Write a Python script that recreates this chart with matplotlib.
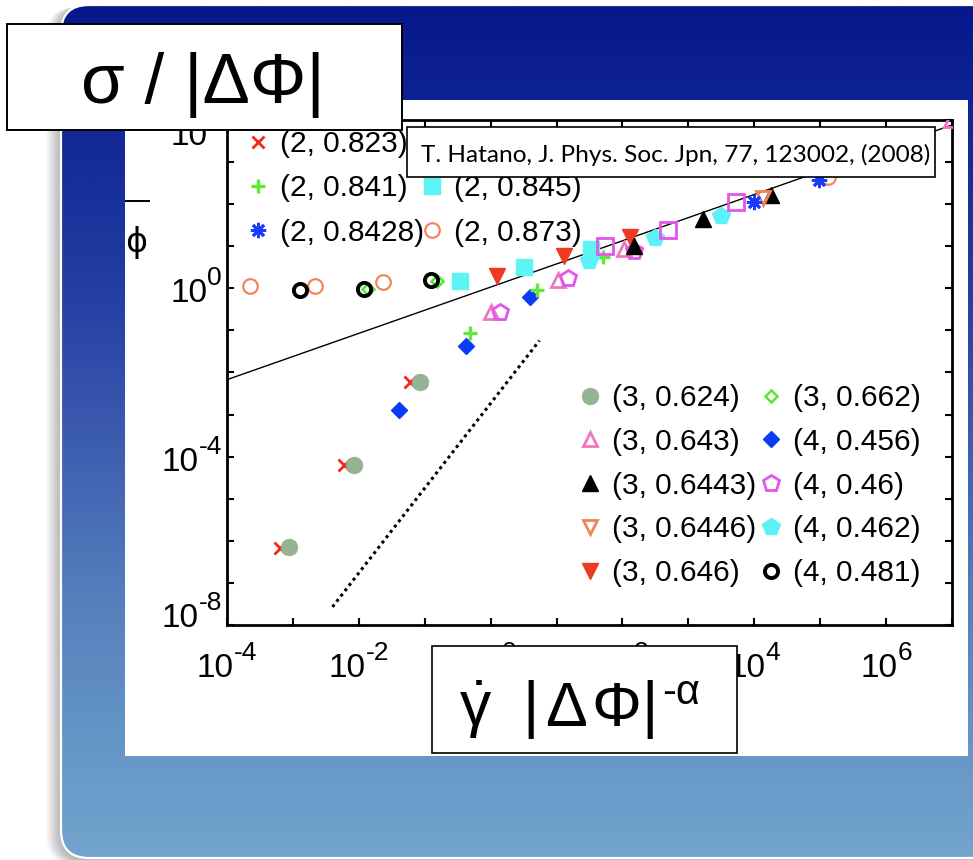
import numpy as np
import matplotlib
matplotlib.use("Agg")
import matplotlib.pyplot as plt
from matplotlib.patches import FancyBboxPatch, Rectangle
from matplotlib.colors import LinearSegmentedColormap
from matplotlib.ticker import NullLocator, NullFormatter

plt.rcParams['font.family'] = ['Liberation Sans', 'DejaVu Sans']
plt.rcParams['mathtext.fontset'] = 'custom'
plt.rcParams['mathtext.rm'] = 'Liberation Sans'
plt.rcParams['mathtext.it'] = 'Liberation Sans'
plt.rcParams['mathtext.bf'] = 'Liberation Sans:bold'

# ---------------- data: x = gamma_dot |dphi|^-alpha, y = sigma / |dphi| ----------------
x_2_0823 = [6.4e-4, 6.0e-3, 6.0e-2]
y_2_0823 = [6.8e-7, 6.5e-5, 5.8e-3]
x_2_0841 = [0.49, 5.1, 51]
y_2_0841 = [0.089, 0.89, 5.5]
x_2_08428 = [9.8e3, 9.5e4]
y_2_08428 = [112, 372]
x_2_0843 = [55, 490, 5250]
y_2_0843 = [10, 24, 112]
x_2_0845 = [0.34, 3.2, 33]
y_2_0845 = [1.48, 3.3, 8.5]
x_2_0873 = [2.2e-4, 2.2e-3, 0.023, 1.3e5]
y_2_0873 = [1.12, 1.12, 1.38, 437]

x_3_0624 = [8.7e-4, 8.5e-3, 8.5e-2]
y_3_0624 = [7.2e-7, 6.5e-5, 5.8e-3]
x_3_0643 = [1.0, 10.5, 105, 9.7e6]
y_3_0643 = [0.27, 1.6, 8.5, 1.0e4]
x_3_06443 = [148, 1660, 1.78e4]
y_3_06443 = [10, 44, 162]
x_3_06446 = [1.35e4]
y_3_06446 = [138]
x_3_0646 = [1.26, 12.9, 132]
y_3_0646 = [2.0, 5.8, 17]
x_3_0662 = [0.0138, 0.155]
y_3_0662 = [0.95, 1.48]

x_4_0456 = [0.041, 0.42, 4.0]
y_4_0456 = [1.26e-3, 0.042, 0.62]
x_4_046 = [1.41, 14.8, 148]
y_4_046 = [0.28, 1.8, 7.6]
x_4_0462 = [31, 316, 3090]
y_4_0462 = [4.4, 16, 51]
x_4_0481 = [1.29e-3, 0.0118, 0.123]
y_4_0481 = [0.89, 0.95, 1.55]

# guide lines (power laws, straight on log-log axes)
fit_x = [1e-4, 1e7]
fit_y = [10 ** -2.17, 10 ** 3.88]
slope2_x = [3.98e-3, 5.5]
slope2_y = [2.69e-8, 0.0575]

xtick_exps = np.arange(-4, 8)
ytick_exps = np.arange(-8, 5)
xlabel_exps = [-4, -2, 0, 2, 4, 6]
ylabel_exps = [-8, -4, 0, 4]

legend1_labels = ['(2, 0.823)', '(2, 0.841)', '(2, 0.8428)',
                  '(2, 0.843)', '(2, 0.845)', '(2, 0.873)']
legend2_labels = ['(3, 0.624)', '(3, 0.643)', '(3, 0.6443)', '(3, 0.6446)', '(3, 0.646)',
                  '(3, 0.662)', '(4, 0.456)', '(4, 0.46)', '(4, 0.462)', '(4, 0.481)']

# ---------------- figure / slide background ----------------
W, H = 973, 860
fig = plt.figure(figsize=(W / 100, H / 100), dpi=100)
fig.patch.set_facecolor('white')

bg = fig.add_axes([0, 0, 1, 1], zorder=0)
bg.set_xlim(0, W)
bg.set_ylim(H, 0)
bg.axis('off')

# soft shadow to the left of the slide card
for k in range(1, 16):
    bg.add_patch(FancyBboxPatch((61 - k, 5 + k * 0.2), 1100, 856,
                                boxstyle='round,pad=0,rounding_size=28',
                                facecolor='black', edgecolor='none',
                                alpha=0.018))

card = FancyBboxPatch((61, 5), 1100, 853, boxstyle='round,pad=0,rounding_size=28',
                      facecolor='none', edgecolor='white', linewidth=1.6, zorder=3)
bg.add_patch(card)
cmap = LinearSegmentedColormap.from_list('slide', [
    (0.00, '#06188c'), (0.15, '#112896'), (0.35, '#2640a4'),
    (0.52, '#3e5eb0'), (0.70, '#5580bd'), (0.86, '#6595c6'), (1.00, '#72a4ce')])
grad = np.linspace(0, 1, 512)[:, None]
img = bg.imshow(grad, cmap=cmap, extent=(61, 1161, 858, 5), aspect='auto',
                interpolation='bilinear', zorder=1)
img.set_clip_path(card)

# white figure panel
bg.add_patch(Rectangle((125, 100), 843, 656, facecolor='white', edgecolor='none', zorder=4))
# visible piece of the stacked y label at the panel edge
bg.plot([125, 150], [201, 201], color='black', lw=1.4, zorder=5, solid_capstyle='butt')
bg.text(136, 252, 'ϕ', fontsize=24, family='DejaVu Sans', ha='center', va='baseline', zorder=5)

# ---------------- main log-log axes ----------------
ax = fig.add_axes([227 / W, 1 - 625 / H, 725 / W, 505 / H], zorder=2)
ax.set_facecolor('none')
ax.set_xscale('log')
ax.set_yscale('log')
ax.set_xlim(1e-4, 1e7)
ax.set_ylim(1e-8, 1e4)
ax.set_xticks(10.0 ** xtick_exps)
ax.set_yticks(10.0 ** ytick_exps)
ax.xaxis.set_minor_locator(NullLocator())
ax.yaxis.set_minor_locator(NullLocator())
ax.xaxis.set_major_formatter(NullFormatter())
ax.yaxis.set_major_formatter(NullFormatter())
ax.tick_params(which='major', direction='in', length=5, width=1.5,
               top=True, right=True)
for sp in ax.spines.values():
    sp.set_linewidth(2.0)

ax.plot(fit_x, fit_y, color='black', lw=1.0, zorder=2)
ax.plot(slope2_x, slope2_y, color='black', lw=2.2, linestyle=(0, (1, 1.2)),
        dash_capstyle='butt', zorder=2)

def series(x, y, **kw):
    line, = ax.plot(x, y, linestyle='none', zorder=3, **kw)
    return line

h_2_0873 = series(x_2_0873, y_2_0873, marker='o', ms=10.5, mfc='none', mec='#f5845e', mew=1.6)
h_3_0662 = series(x_3_0662, y_3_0662, marker='D', ms=6.5, mfc='none', mec='#55e632', mew=1.8)
h_4_0481 = series(x_4_0481, y_4_0481, marker='o', ms=9.5, mfc='none', mec='black', mew=2.8)
h_2_0823 = series(x_2_0823, y_2_0823, marker='x', ms=8, mec='#f2281c', mew=2.0)
h_3_0624 = series(x_3_0624, y_3_0624, marker='o', ms=12, mfc='#93b393', mec='#93b393', mew=0.5)
h_4_0456 = series(x_4_0456, y_4_0456, marker='D', ms=8.0, mfc='#0a3cf5', mec='#0a3cf5')
h_2_0841 = series(x_2_0841, y_2_0841, marker='+', ms=10, mec='#5fe83a', mew=2.4)
h_2_0845 = series(x_2_0845, y_2_0845, marker='s', ms=12, mfc='#5cf4f4', mec='#5cf4f4')
h_3_0646 = series(x_3_0646, y_3_0646, marker='v', ms=12, mfc='#ee3a22', mec='#ee3a22')
h_3_0643 = series(x_3_0643, y_3_0643, marker='^', ms=10.5, mfc='none', mec='#f276bd', mew=2.0)
h_4_046 = series(x_4_046, y_4_046, marker='p', ms=12, mfc='none', mec='#e455ea', mew=2.0)
h_4_0462 = series(x_4_0462, y_4_0462, marker='p', ms=13, mfc='#5cf1f6', mec='#5cf1f6')
h_2_0843 = series(x_2_0843, y_2_0843, marker='s', ms=11, mfc='none', mec='#e455ea', mew=2.0)
h_3_06443 = series(x_3_06443, y_3_06443, marker='^', ms=11, mfc='black', mec='black')
h_3_06446 = series(x_3_06446, y_3_06446, marker='v', ms=10.5, mfc='none', mec='#f28455', mew=2.0)
h_2_08428 = series(x_2_08428, y_2_08428, marker=(8, 2, 0), ms=11, mec='#1a3cff', mew=2.0)

LEG_FS = 21.5
leg1 = ax.legend([h_2_0823, h_2_0841, h_2_08428, h_2_0843, h_2_0845, h_2_0873],
                 legend1_labels, ncol=2, loc='upper left',
                 bbox_to_anchor=(243 / W, 1 - 130 / H), bbox_transform=fig.transFigure,
                 frameon=False, fontsize=LEG_FS, borderpad=0, borderaxespad=0,
                 handlelength=1.0, handletextpad=0.23, columnspacing=-0.22,
                 labelspacing=0.545, numpoints=1)
ax.add_artist(leg1)
leg2 = ax.legend([h_3_0624, h_3_0643, h_3_06443, h_3_06446, h_3_0646,
                  h_3_0662, h_4_0456, h_4_046, h_4_0462, h_4_0481],
                 legend2_labels, ncol=2, loc='upper left',
                 bbox_to_anchor=(575 / W, 1 - 384 / H), bbox_transform=fig.transFigure,
                 frameon=False, fontsize=LEG_FS, borderpad=0, borderaxespad=0,
                 handlelength=1.0, handletextpad=0.23, columnspacing=0.0,
                 labelspacing=0.53, numpoints=1)

# ---------------- power-of-ten tick labels ----------------
BASE_FS, EXP_FS, RAISE = 24, 19, 17

def exp_text(e):
    return ('-%d' % -e) if e < 0 else '%d' % e

xlab = []
for e in xlabel_exps:
    b = ax.annotate('10', xy=(10.0 ** e, 0), xycoords=('data', 'axes fraction'),
                    xytext=(0, -52), textcoords='offset pixels', ha='right',
                    va='baseline', fontsize=BASE_FS, annotation_clip=False)
    s = ax.annotate(exp_text(e), xy=(10.0 ** e, 0), xycoords=('data', 'axes fraction'),
                    xytext=(0, -52 + RAISE), textcoords='offset pixels', ha='left',
                    va='baseline', fontsize=EXP_FS, annotation_clip=False)
    xlab.append((b, s))

yshift = {-8: 12, 4: -11}
ylab = []
for e in ylabel_exps:
    dy = -14 + yshift.get(e, 0)
    b = ax.annotate('10', xy=(0, 10.0 ** e), xycoords=('axes fraction', 'data'),
                    xytext=(-5, dy), textcoords='offset pixels', ha='right',
                    va='baseline', fontsize=BASE_FS, annotation_clip=False)
    s = ax.annotate(exp_text(e), xy=(0, 10.0 ** e), xycoords=('axes fraction', 'data'),
                    xytext=(-5, dy + RAISE), textcoords='offset pixels', ha='right',
                    va='baseline', fontsize=EXP_FS, annotation_clip=False)
    ylab.append((b, s, dy))

# ---------------- overlay captions ----------------
ov = fig.add_axes([0, 0, 1, 1], zorder=5)
ov.set_xlim(0, W)
ov.set_ylim(H, 0)
ov.axis('off')
ov.set_facecolor('none')

ov.add_patch(Rectangle((7, 24), 395, 106, facecolor='white', edgecolor='black', lw=1.4))
ov.text(203, 103, 'σ / |ΔΦ|', fontsize=51, ha='center', va='baseline')

ov.add_patch(Rectangle((407, 127), 528, 50, facecolor='white', edgecolor='black', lw=1.2))
ov.text(421, 162, 'T. Hatano, J. Phys. Soc. Jpn, 77, 123002, (2008)', family='Lato',
        fontsize=17.6, ha='left', va='baseline')

# x-axis caption: gamma-dot |dPhi|^-alpha, set glyph by glyph
ov.add_patch(Rectangle((432, 646), 305, 107, facecolor='white', edgecolor='black', lw=1.2))
for s, xc in [(r'$\dot{\gamma}$', 476), ('|', 531), ('Δ', 566), ('Φ', 616), ('|', 650)]:
    ov.text(xc, 726, s, fontsize=45, ha='center', va='baseline')
ov.text(681, 704, '-α', fontsize=30, ha='center', va='baseline')

fig.canvas.draw()
renderer = fig.canvas.get_renderer()
for b, s in xlab:
    wb = b.get_window_extent(renderer).width
    we = s.get_window_extent(renderer).width
    j = (wb - we) / 2
    b.xyann = (j, -52)
    s.xyann = (j, -52 + RAISE)
for b, s, dy in ylab:
    we = s.get_window_extent(renderer).width
    b.xyann = (-5 - we, dy)

fig.savefig('out.png', dpi=100)
